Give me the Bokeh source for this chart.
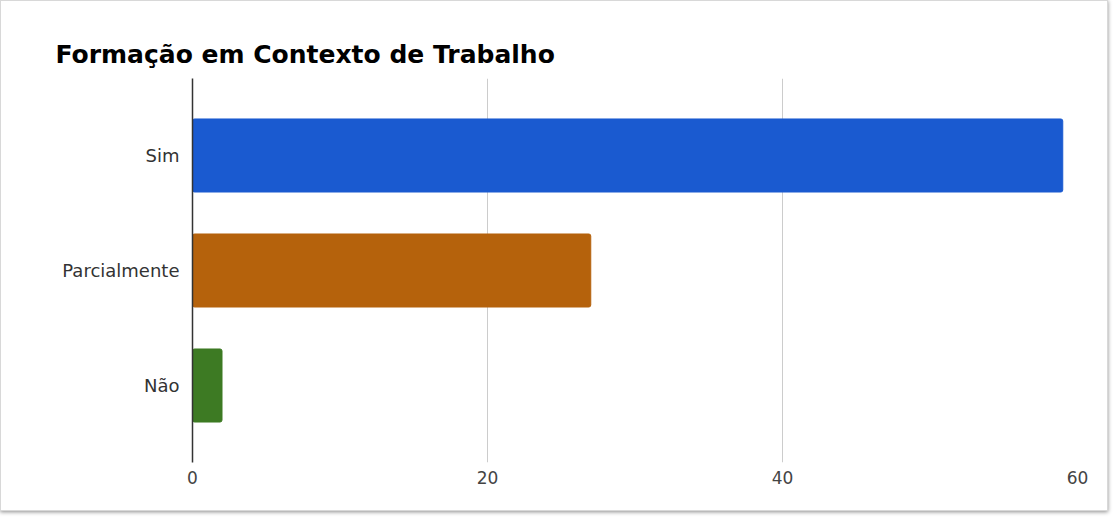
from bokeh.plotting import figure
from bokeh.models import Range1d, FactorRange, FixedTicker
from bokeh.embed import file_html
from bokeh.resources import INLINE

categories = ["Sim", "Parcialmente", "Não"]
values = [59, 27, 2]
colors = ["#1a5ad0", "#b5620c", "#3d7a23"]
x_ticks = [0, 20, 40, 60]

p = figure(
    width=1108, height=511,
    y_range=FactorRange(factors=list(reversed(categories)), range_padding=0.113),
    x_range=Range1d(0, 60),
    output_backend="svg", toolbar_location=None,
    title="Formação em Contexto de Trabalho",
    min_border_left=191, min_border_right=32, min_border_top=77, min_border_bottom=50,
)
p.styles = {"border": "1px solid #d8d8d8", "box-shadow": "0px 1px 4px rgba(0,0,0,0.45)"}

p.hbar(y=categories, right=values, left=0, height=0.635, color=colors,
       line_color=colors, border_radius=2)

p.title.text_font = "DejaVu Sans"
p.title.text_font_style = "bold"
p.title.text_font_size = "25px"
p.title.text_color = "#000000"
p.title.align = "left"
p.title.offset = -137
p.title.standoff = 20

p.outline_line_color = None
p.background_fill_color = "white"
p.border_fill_color = "white"

p.xaxis.ticker = FixedTicker(ticks=x_ticks)
p.xaxis.axis_line_color = None
p.xaxis.major_tick_line_color = None
p.xaxis.minor_tick_line_color = None
p.xaxis.major_label_text_font = "DejaVu Sans"
p.xaxis.major_label_text_font_size = "17px"
p.xaxis.major_label_text_color = "#444444"
p.xaxis.major_label_standoff = 2

p.yaxis.axis_line_color = "#333333"
p.yaxis.axis_line_width = 1.5
p.yaxis.major_tick_line_color = None
p.yaxis.minor_tick_line_color = None
p.yaxis.major_label_text_font = "DejaVu Sans"
p.yaxis.major_label_text_font_size = "18px"
p.yaxis.major_label_text_color = "#333333"
p.yaxis.major_label_standoff = 7

p.xgrid.ticker = FixedTicker(ticks=[20, 40, 60])
p.xgrid.grid_line_color = "#cccccc"
p.ygrid.grid_line_color = None

open("out.html", "w").write(file_html(p, INLINE))
